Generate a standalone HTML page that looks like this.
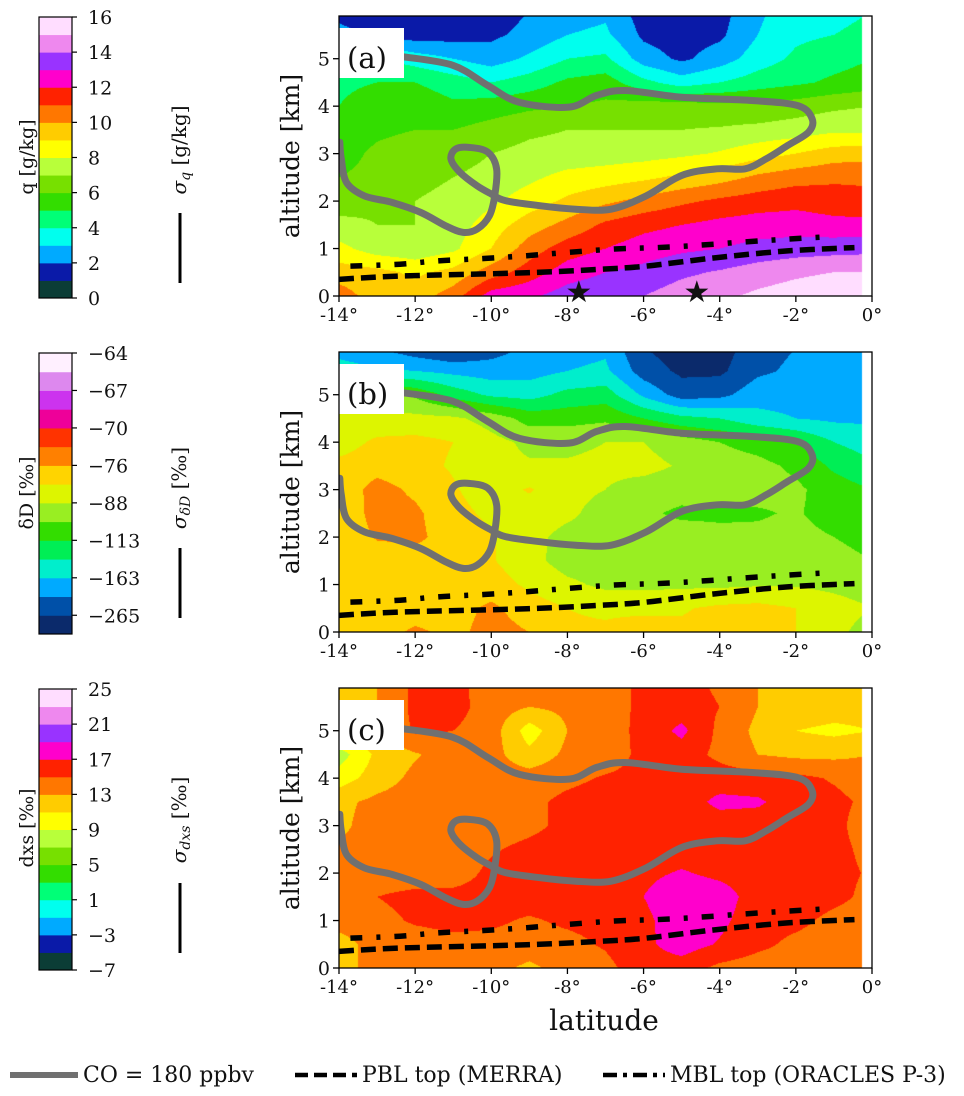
<!DOCTYPE html>
<html><head><meta charset="utf-8">
<style>
html,body{margin:0;padding:0;background:#fff;}
#wrap{position:relative;width:964px;height:1096px;overflow:hidden;font-family:"DejaVu Serif","Liberation Serif",serif;}
canvas{position:absolute;}
svg{position:absolute;left:0;top:0;}
text{font-family:"DejaVu Serif","Liberation Serif",serif;fill:#111;}
</style></head>
<body>
<div id="wrap">
<canvas id="cva" width="533" height="280" style="left:339px;top:16px"></canvas>
<canvas id="cvb" width="533" height="280" style="left:339px;top:352px"></canvas>
<canvas id="cvc" width="533" height="280" style="left:339px;top:688px"></canvas>
<svg id="ov" width="964" height="1096"></svg>
</div>
<script>
// ---- data ----
const lats = [-14,-13,-12,-11,-10,-9,-8,-7,-6,-5,-4,-3,-2,-1,0];
const alts = [0,0.5,1,1.5,2,2.5,3,3.5,4,4.5,5,5.5,6];
// (a) specific humidity q [g/kg], rows = altitude
const qField = [
[10.5,9.5,9.5,10.5,12.5,12.8,13.5,13.8,14,14.5,14.8,15.2,15.5,15.8,16],
[9.5,9.3,8.8,9.3,10.5,11.5,12.5,13,13.3,13.8,14.1,14.5,14.8,15,15],
[8.3,7.5,7.3,7.8,9,10.5,11.5,12,12.5,12.8,13,13.3,13.5,13.6,13.7],
[7.3,7,7,7.5,8.5,9.5,10.3,11.2,11.7,12,12.3,12.5,12.5,12.3,12.3],
[6.5,6.8,7,7.2,7.8,8.5,9.2,9.8,10.3,10.8,11.2,11.5,11.7,11.5,11.3],
[6,6.3,6.8,7,7.3,7.8,8.3,8.5,8.8,9.2,9.6,10.2,10.6,10.8,10.8],
[5.6,6.2,6.5,6.6,7,7.3,7.4,7.5,7.6,7.8,8.1,8.6,9,9.5,9.6],
[5.4,5.8,6,6,6.4,6.8,7,7,7,7,7.1,7.3,7.5,7.8,7.8],
[5,5.5,5.7,5.2,5.5,5.8,6,6.2,6.5,6.5,6.3,6.2,6.5,6.8,7],
[4.8,5,5,4.5,4,4.5,5.2,5.5,4.3,3.5,4,4.5,4.8,5.2,5.5],
[4.5,4.2,3.5,3,2.5,3.2,4,4.2,2.5,1.8,2.5,3.5,4.2,4.6,5],
[2.5,1.8,1.5,1.6,1.8,2.3,3,3.2,1.8,1.5,1.8,3,3.8,4,4.2],
[1.5,0.8,0.9,1.2,1.5,2,2.6,2.8,1.5,1.3,1.6,2.8,3.6,3.8,4]
];
// (b) deltaD expressed as colorbar level position (0 = bottom, 15 = top)
const dDLevelField = [
[8.5,8.5,9.2,8.7,9.4,9.0,8.3,8.3,8.9,8.2,8.5,8.4,8.0,7.3,6.5],
[8.3,8.3,8.4,8.6,9.2,8.5,8.0,7.7,7.6,7.9,8.2,8.3,8.0,7.5,7.0],
[8.2,8.2,8.3,8.4,8.5,7.8,7.2,6.8,6.8,6.8,6.8,6.9,6.9,6.7,6.4],
[8.3,8.4,8.6,8.4,8.1,7.3,6.6,6.5,6.6,6.6,6.6,6.7,6.6,6.3,6.0],
[8.3,9.1,9.2,8.6,8.1,7.3,6.7,6.7,6.6,6.5,6.3,6.2,6.3,6.0,5.7],
[8.2,9.4,9.2,8.3,7.8,7.5,7.2,6.6,6.2,5.8,5.8,5.9,6.1,5.6,5.3],
[8.3,9.4,8.8,8.1,7.5,8.1,7.3,7.0,6.6,6.4,6.5,6.3,6.2,5.5,5.0],
[8.3,8.6,8.3,7.9,7.3,7.1,7.1,7.2,7.3,6.9,6.5,6.3,5.8,4.8,4.2],
[7.5,8.2,8.3,8.0,7.3,6.8,6.8,7.0,7.0,6.5,6.0,5.6,5.0,4.0,3.5],
[7.2,7.3,7.3,7.2,6.6,5.6,5.6,5.8,5.0,4.3,4.0,3.3,3.0,2.8,2.8],
[6.8,6.6,5.8,4.6,3.8,3.6,4.3,4.5,2.8,1.5,1.7,2.6,2.6,2.8,2.8],
[3.5,3.2,3.0,2.7,2.5,2.6,3.0,3.2,1.5,0.8,0.8,1.8,2.2,2.4,2.5],
[2.5,2.0,1.3,0.8,1.5,2.2,2.6,2.8,1.0,0.5,0.5,1.6,2.0,2.2,2.3]
];
// (c) deuterium excess dxs [permil]
const dxsField = [
[12.5,13.5,14,14,13.8,12.5,14,14.5,16,16,14.5,14,14,14,14],
[12,14,14.2,14.5,14.5,14.3,14.5,15.2,16.5,18,16.8,15.5,14.5,14,14],
[14,14.5,15.2,15.5,15.3,14.8,15.3,15.6,16.5,18.2,17.5,15.8,15.5,14.5,14],
[14,15,15.5,15.5,15.6,15.8,16,16,17,18.5,18,16,16,15.5,14.5],
[13.5,14,14,14.2,15.4,16,16,16,16.5,17.2,16.5,16,16,15.5,14.8],
[13.3,14,14,14,14.8,15.5,16,16,16,16,16,16,16,15.5,14.5],
[12.5,14,14,14,14,14.5,15.5,16,16,16,16,16,16,15.5,14],
[12.5,13.5,14,14,14,14.5,15.5,16,16,16,17.5,17.3,16,15.5,14.5],
[10,12,13.5,14,14,14,14.5,15.2,15.5,16,16,15.8,15.5,14.8,14],
[8,11.5,12.8,14,13.8,11.5,13.5,14,15.5,16,14.5,13,12.5,12.5,13],
[12,12.8,15.3,15,14,10,13,14,15.6,17.5,14.5,12.5,11,10.5,11],
[12,13,15.5,15.8,14,13,13.5,14,15.5,16,15,13,12.5,12,12],
[12,13,15.5,15.8,13.8,13.5,13.8,14,15.5,15.8,14.6,13,12.5,12,12]
];
// CO = 180 ppbv contour [lat, alt]
const coLat = [-12.3,-11.0,-10.1,-9.26,-7.96,-7.22,-6.48,-5.0,-3.15,-1.94,-1.57,-1.67,-2.22,-2.78,-3.33,-4.07,-5.0,-5.93,-6.85,-7.78,-8.70,-9.63,-10.0,-10.37,-10.83,-11.06,-10.93,-10.56,-10.09,-9.86,-9.91,-10.05,-10.37,-10.74,-11.2,-11.85,-12.6,-13.33,-13.8,-13.94,-13.98];
const coAlt = [5.04,4.86,4.44,4.08,3.98,4.23,4.33,4.19,4.12,4.01,3.73,3.45,3.17,2.89,2.68,2.68,2.54,2.11,1.83,1.83,1.90,2.01,2.15,2.32,2.61,2.89,3.10,3.13,3.03,2.68,2.11,1.69,1.41,1.34,1.48,1.76,1.97,2.11,2.39,2.89,3.24];
// PBL top (MERRA)
const pblLat = [-14,-12.4,-9.07,-7.2,-5.93,-4.07,-2.22,-0.46];
const pblAlt = [0.35,0.42,0.49,0.56,0.63,0.81,0.95,1.02];
// MBL top (ORACLES P-3)
const mblLat = [-13.7,-12.4,-11.4,-10.2,-9.07,-7.96,-6.76,-5.65,-4.54,-3.33,-2.22,-1.11];
const mblAlt = [0.63,0.67,0.74,0.79,0.85,0.92,0.99,1.02,1.07,1.14,1.20,1.25];
const starLats = [-7.7,-4.6];
const xTickVals = [-14,-12,-10,-8,-6,-4,-2,0];
const yTickVals = [0,1,2,3,4,5];
const qTicks = ["0","2","4","6","8","10","12","14","16"];
const dDTicks = ["\u2212265","\u2212163","\u2212113","\u221288","\u221276","\u221270","\u221267","\u221264"];
const dxsTicks = ["\u22127","\u22123","1","5","9","13","17","21","25"];

// ---- styles / geometry ----
const palA = ['#0b3d36','#0a1aa8','#00aaff','#00ffee','#00ff77','#33dd00','#77e000','#b8ff3a','#ffff00','#ffcc00','#ff7700','#ff2200','#ff00cc','#9933ff','#ee88ee','#ffddff'];
const palB = ['#0b2a6b','#0050a8','#00aaff','#00eecc','#00ee55','#33dd00','#99ee22','#ddf500','#ffd400','#ff8000','#ff3300','#ee0099','#cc33ee','#dd88ee','#fff0ff'];
const X0=339,X1=872,YMAX=5.9;
const panels=[
 {id:'a',cv:'cva',top:16,bot:296,field:qField,pal:palA,band:v=>Math.floor(v),label:'(a)'},
 {id:'b',cv:'cvb',top:352,bot:632,field:dDLevelField,pal:palB,band:v=>Math.floor(v),label:'(b)'},
 {id:'c',cv:'cvc',top:688,bot:968,field:dxsField,pal:palA,band:v=>Math.floor((v+7)/2),label:'(c)'}
];
function xS(lat){return X0+(lat+14)/14*(X1-X0);}
function interp(field,lat,alt){
 let i=(lat-lats[0]);let j=alt/0.5;
 i=Math.max(0,Math.min(lats.length-1.0001,i));j=Math.max(0,Math.min(alts.length-1.0001,j));
 const i0=Math.floor(i),j0=Math.floor(j),fi=i-i0,fj=j-j0;
 const a=field[j0][i0],b=field[j0][i0+1],c=field[j0+1][i0],d=field[j0+1][i0+1];
 return (a*(1-fi)+b*fi)*(1-fj)+(c*(1-fi)+d*fi)*fj;
}
function hex(h){return [parseInt(h.substr(1,2),16),parseInt(h.substr(3,2),16),parseInt(h.substr(5,2),16)];}
panels.forEach(p=>{
 const cv=document.getElementById(p.cv),ctx=cv.getContext('2d');
 const W=cv.width,H=cv.height,img=ctx.createImageData(W,H);
 const cols=p.pal.map(hex);
 for(let py=0;py<H;py++){const alt=YMAX*(1-(py+0.5)/H);
  for(let px=0;px<W;px++){const lat=-14+14*(px+0.5)/W;const k=(py*W+px)*4;
   let c=[255,255,255];
   if(lat<=-0.25){let b=p.band(interp(p.field,lat,alt));b=Math.max(0,Math.min(cols.length-1,b));c=cols[b];}
   img.data[k]=c[0];img.data[k+1]=c[1];img.data[k+2]=c[2];img.data[k+3]=255;}}
 ctx.putImageData(img,0,0);
});
const NS='http://www.w3.org/2000/svg',ov=document.getElementById('ov');
function mk(tag,attrs,parent){const e=document.createElementNS(NS,tag);for(const k in attrs)e.setAttribute(k,attrs[k]);(parent||ov).appendChild(e);return e;}
function smooth(pts){let d='M'+pts[0][0].toFixed(1)+','+pts[0][1].toFixed(1);
 for(let i=0;i<pts.length-1;i++){const p0=pts[Math.max(0,i-1)],p1=pts[i],p2=pts[i+1],p3=pts[Math.min(pts.length-1,i+2)];
  d+=' C'+(p1[0]+(p2[0]-p0[0])/6).toFixed(1)+','+(p1[1]+(p2[1]-p0[1])/6).toFixed(1)+' '+(p2[0]-(p3[0]-p1[0])/6).toFixed(1)+','+(p2[1]-(p3[1]-p1[1])/6).toFixed(1)+' '+p2[0].toFixed(1)+','+p2[1].toFixed(1);}
 return d;}
panels.forEach(p=>{
 const yS=a=>p.bot-a/YMAX*(p.bot-p.top);
 const g=mk('g',{});
 
 
 const clipId='clip'+p.id;
 const cp=mk('clipPath',{id:clipId},g);mk('rect',{x:X0,y:p.top,width:X1-X0,height:p.bot-p.top},cp);
 const lg=mk('g',{'clip-path':'url(#'+clipId+')'},g);
 const co=mk('path',{d:smooth(coLat.map((l,i)=>[xS(l),yS(coAlt[i])])),fill:'none',stroke:'#707070','stroke-width':7,'stroke-linecap':'round'},lg);
 
 
 const pbl=mk('path',{d:smooth(pblLat.map((l,i)=>[xS(l),yS(pblAlt[i])])),fill:'none',stroke:'#000','stroke-width':5.5,'stroke-dasharray':'15 7'},lg);
 
 
 const mbl=mk('path',{d:smooth(mblLat.map((l,i)=>[xS(l),yS(mblAlt[i])])),fill:'none',stroke:'#000','stroke-width':5.5,'stroke-dasharray':'12 14 4 14'},lg);
 
 
 const box=mk('rect',{x:X0,y:p.top+12,width:65,height:50,fill:'#fff'},g);
 
 
 const pl=mk('text',{x:X0+8,y:p.top+52,'font-size':29},g);pl.textContent=p.label;
 
 
 const fr=mk('rect',{x:X0,y:p.top,width:X1-X0,height:p.bot-p.top,fill:'none',stroke:'#000','stroke-width':1.3},g);
 
 
 if(p.id==='a'){starLats.forEach(l=>{const t=mk('text',{x:xS(l),y:p.bot+6,'font-size':30,'text-anchor':'middle',fill:'#000'},g);t.textContent='\u2605';
  
  });}
 xTickVals.forEach(v=>{mk('line',{x1:xS(v),x2:xS(v),y1:p.bot,y2:p.bot+6,stroke:'#000','stroke-width':1.3},g);
  const t=mk('text',{x:xS(v),y:p.bot+25,'font-size':18,'text-anchor':'middle'},g);t.textContent=(v<0?'-':'')+Math.abs(v)+'\u00b0';
  
  });
 yTickVals.forEach(v=>{mk('line',{x1:X0-6,x2:X0,y1:yS(v),y2:yS(v),stroke:'#000','stroke-width':1.3},g);
  const t=mk('text',{x:X0-9,y:yS(v)+7,'font-size':19,'text-anchor':'end'},g);t.textContent=v;
  
  });
 const yl=mk('text',{x:0,y:0,'font-size':25,'text-anchor':'middle',transform:'translate(299,'+((p.top+p.bot)/2)+') rotate(-90)'},g);yl.textContent='altitude [km]';
 
 
 // colorbar
 const cbx=39,cbw=33,n=p.pal.length,bh=(p.bot-p.top+1)/n,cbt=p.top+1;
 const cb=mk('g',{},g);
 
 
 p.pal.forEach((c,i)=>{mk('rect',{x:cbx,y:cbt+(n-1-i)*bh,width:cbw,height:bh+0.5,fill:c},cb);});
 mk('rect',{x:cbx,y:cbt,width:cbw,height:n*bh,fill:'none',stroke:'#000','stroke-width':1.2},cb);
 const ticks=p.id==='a'?qTicks:p.id==='b'?dDTicks:dxsTicks;
 ticks.forEach((s,i)=>{const idx=p.id==='b'?1+2*i:2*i;const y=cbt+(n-idx)*bh;
  mk('line',{x1:cbx+cbw,x2:cbx+cbw+5,y1:y,y2:y,stroke:'#000','stroke-width':1.2},cb);
  const t=mk('text',{x:cbx+cbw+16,y:y+7,'font-size':19},cb);t.textContent=s;
  
  });
});
</script>
<svg width="964" height="1096" style="position:absolute;left:0;top:0;pointer-events:none">
<g font-family="DejaVu Serif, Liberation Serif, serif" fill="#111">
<text transform="translate(33,157) rotate(-90)" font-size="19" text-anchor="middle">q [g/kg]</text>
<text transform="translate(186,150) rotate(-90)" font-size="20" text-anchor="middle"><tspan font-style="italic">σ</tspan><tspan font-size="14" dy="4" font-style="italic">q</tspan><tspan dy="-4"> [g/kg]</tspan></text>
<line x1="180" y1="213" x2="180" y2="283" stroke="#000" stroke-width="3"/>
<text transform="translate(33,493) rotate(-90)" font-size="19" text-anchor="middle">δD [‰]</text>
<text transform="translate(186,488) rotate(-90)" font-size="20" text-anchor="middle"><tspan font-style="italic">σ</tspan><tspan font-size="14" dy="4" font-style="italic">δD</tspan><tspan dy="-4"> [‰]</tspan></text>
<line x1="180" y1="548" x2="180" y2="618" stroke="#000" stroke-width="3"/>
<text transform="translate(33,828) rotate(-90)" font-size="19" text-anchor="middle">dxs [‰]</text>
<text transform="translate(186,820) rotate(-90)" font-size="20" text-anchor="middle"><tspan font-style="italic">σ</tspan><tspan font-size="14" dy="4" font-style="italic">dxs</tspan><tspan dy="-4"> [‰]</tspan></text>
<line x1="180" y1="883" x2="180" y2="953" stroke="#000" stroke-width="3"/>
<text x="604" y="1030" font-size="28" text-anchor="middle">latitude</text>
<g>
<line x1="10" y1="1075" x2="78" y2="1075" stroke="#707070" stroke-width="6"/>
<text x="83" y="1082" font-size="22">CO = 180 ppbv</text>
<line x1="295" y1="1075" x2="357" y2="1075" stroke="#000" stroke-width="4.5" stroke-dasharray="13 6"/>
<text x="362" y="1082" font-size="22">PBL top (MERRA)</text>
<line x1="603" y1="1075" x2="665" y2="1075" stroke="#000" stroke-width="4.5" stroke-dasharray="14 6 4 6"/>
<text x="670" y="1082" font-size="22">MBL top (ORACLES P-3)</text>
</g>
</g>
</svg>
</body></html>
